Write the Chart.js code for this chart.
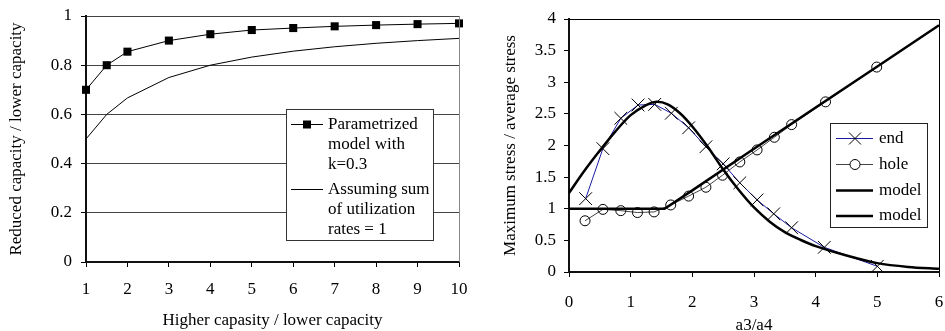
<!DOCTYPE html>
<html>
<head>
<meta charset="utf-8">
<script src="https://cdn.jsdelivr.net/npm/chart.js@4"></script>
<style>
  html, body { margin: 0; padding: 0; background: #fff; }
  #left { position: absolute; left: 0; top: 0; }
  #right { position: absolute; left: 470px; top: 0; }
</style>
</head>
<body>
<canvas id="left" width="470" height="331"></canvas>
<canvas id="right" width="475" height="331"></canvas>
<script>
// left chart: reduced capacity
var capRatio = [1, 1.5, 2, 3, 4, 5, 6, 7, 8, 9, 10];
var paramModel = [0.70, 0.80, 0.855, 0.90, 0.926, 0.943, 0.951, 0.958, 0.963, 0.967, 0.970];
var sumRates = [0.50, 0.60, 0.667, 0.75, 0.80, 0.833, 0.857, 0.875, 0.889, 0.90, 0.909];

// right chart: stress ratios
var endX = [0.27, 0.55, 0.84, 1.12, 1.39, 1.66, 1.94, 2.22, 2.50, 2.77, 3.05, 3.32, 3.61, 4.14, 5.00];
var endY = [1.16, 1.95, 2.43, 2.64, 2.65, 2.51, 2.28, 1.98, 1.71, 1.41, 1.14, 0.92, 0.70, 0.39, 0.09];
var holeX = [0.26, 0.55, 0.84, 1.11, 1.38, 1.65, 1.94, 2.22, 2.49, 2.77, 3.05, 3.33, 3.61, 4.16, 4.99];
var holeY = [0.81, 0.99, 0.97, 0.94, 0.95, 1.06, 1.20, 1.34, 1.53, 1.74, 1.93, 2.13, 2.33, 2.69, 3.24];
var holeModelX = [0, 1.55, 2, 3, 4, 5, 6];
var holeModelY = [1, 1, 1.29, 1.95, 2.6, 3.25, 3.9];
var endModelX = [0, 0.25, 0.5, 0.75, 1, 1.25, 1.42, 1.6, 1.8, 2, 2.25, 2.5, 2.75, 3, 3.25, 3.5, 3.75, 4, 4.5, 5, 5.5, 6];
var endModelY = [1.25, 1.6, 1.92, 2.22, 2.48, 2.64, 2.69, 2.65, 2.51, 2.3, 1.98, 1.62, 1.3, 1.02, 0.8, 0.63, 0.51, 0.41, 0.26, 0.14, 0.08, 0.05];

Chart.defaults.font.family = "'Liberation Serif', 'Times New Roman', serif";
Chart.defaults.font.size = 17;
Chart.defaults.color = "#000";
Chart.defaults.animation = false;

function pairs(xs, ys) {
  var out = [];
  for (var i = 0; i < xs.length; i++) {
    out.push({ x: xs[i], y: ys[i] });
  }
  return out;
}

// 1.0 -> "1", 0.80 -> "0.8"
function plainTick(v) {
  return String(Math.round(v * 10) / 10);
}

function crossRot(ctx, x, y, r) {
  ctx.beginPath();
  ctx.moveTo(x - r, y - r); ctx.lineTo(x + r, y + r);
  ctx.moveTo(x - r, y + r); ctx.lineTo(x + r, y - r);
  ctx.stroke();
}

var leftExtras = {
  id: "leftExtras",
  afterDatasetsDraw: function (chart) {
    var ctx = chart.ctx;
    var a = chart.chartArea;
    ctx.save();
    // right border of plot
    ctx.strokeStyle = "#888";
    ctx.lineWidth = 1;
    ctx.beginPath();
    ctx.moveTo(Math.round(a.right) + 0.5, a.top);
    ctx.lineTo(Math.round(a.right) + 0.5, a.bottom);
    ctx.stroke();
    // legend box
    ctx.fillStyle = "#fff";
    ctx.fillRect(286.5, 109.5, 147, 131);
    ctx.strokeStyle = "#333";
    ctx.strokeRect(286.5, 109.5, 147, 131);
    ctx.strokeStyle = "#000";
    ctx.beginPath();
    ctx.moveTo(291, 124.5); ctx.lineTo(323, 124.5);
    ctx.moveTo(291, 189.5); ctx.lineTo(323, 189.5);
    ctx.stroke();
    ctx.fillStyle = "#000";
    ctx.fillRect(303, 120.5, 8, 8);
    ctx.font = "17px 'Liberation Serif', serif";
    ctx.textBaseline = "middle";
    ctx.textAlign = "left";
    var lines = ["Parametrized", "model with", "k=0.3"];
    for (var i = 0; i < lines.length; i++) ctx.fillText(lines[i], 328, 125 + i * 20);
    lines = ["Assuming sum", "of utilization", "rates = 1"];
    for (var j = 0; j < lines.length; j++) ctx.fillText(lines[j], 328, 190 + j * 20);
    ctx.restore();
  },
};

var rightExtras = {
  id: "rightExtras",
  afterDatasetsDraw: function (chart) {
    var ctx = chart.ctx;
    var a = chart.chartArea;
    ctx.save();
    ctx.strokeStyle = "#000";
    ctx.lineWidth = 1;
    ctx.beginPath();
    ctx.moveTo(a.left, Math.round(a.top) + 0.5);
    ctx.lineTo(Math.round(a.right) + 0.5, Math.round(a.top) + 0.5);
    ctx.lineTo(Math.round(a.right) + 0.5, a.bottom);
    ctx.stroke();
    // legend box
    ctx.fillStyle = "#fff";
    ctx.fillRect(360.5, 123.5, 97, 104);
    ctx.strokeStyle = "#222";
    ctx.strokeRect(360.5, 123.5, 97, 104);
    // end
    ctx.strokeStyle = "#1a1aa0";
    ctx.beginPath(); ctx.moveTo(366, 138.5); ctx.lineTo(403, 138.5); ctx.stroke();
    ctx.strokeStyle = "#000";
    crossRot(ctx, 385, 138.5, 6);
    // hole
    ctx.strokeStyle = "#444";
    ctx.beginPath(); ctx.moveTo(366, 164.5); ctx.lineTo(403, 164.5); ctx.stroke();
    ctx.strokeStyle = "#000";
    ctx.fillStyle = "#fff";
    ctx.beginPath(); ctx.arc(385, 164.5, 5, 0, Math.PI * 2); ctx.fill(); ctx.stroke();
    // model lines
    ctx.lineWidth = 2.5;
    ctx.beginPath();
    ctx.moveTo(366, 190.5); ctx.lineTo(403, 190.5);
    ctx.moveTo(366, 216); ctx.lineTo(403, 216);
    ctx.stroke();
    ctx.fillStyle = "#000";
    ctx.font = "17px 'Liberation Serif', serif";
    ctx.textBaseline = "middle";
    ctx.textAlign = "left";
    ctx.fillText("end", 409, 138.5);
    ctx.fillText("hole", 409, 164.5);
    ctx.fillText("model", 409, 190.5);
    ctx.fillText("model", 409, 216);
    ctx.restore();
  },
};

// keep chart area where the reference puts it: no label overflow padding
function noPad(s) {
  s.paddingLeft = 0;
  s.paddingRight = 0;
  s.paddingTop = 0;
  s.paddingBottom = 0;
}

new Chart(document.getElementById("left"), {
  type: "scatter",
  data: {
    datasets: [
      {
        label: "Parametrized model with k=0.3",
        data: pairs(capRatio, paramModel),
        showLine: true,
        borderColor: "#000",
        borderWidth: 1,
        pointStyle: "rect",
        pointRadius: 5.7,
        pointBackgroundColor: "#000",
        pointBorderWidth: 0,
      },
      {
        label: "Assuming sum of utilization rates = 1",
        data: pairs(capRatio, sumRates),
        showLine: true,
        borderColor: "#000",
        borderWidth: 1,
        pointRadius: 0,
      },
    ],
  },
  options: {
    responsive: false,
    clip: false,
    layout: { autoPadding: false, padding: { top: 16, right: 11, left: 0, bottom: 0 } },
    plugins: { legend: { display: false }, tooltip: { enabled: false } },
    scales: {
      x: {
        type: "linear",
        min: 1,
        max: 10,
        ticks: { stepSize: 1, padding: 12, callback: plainTick },
        grid: { drawOnChartArea: false, tickLength: 5, tickColor: "#000" },
        border: { color: "#111", width: 2 },
        title: { display: true, text: "Higher capasity / lower capacity", padding: { top: 0, bottom: 0 } },
        afterFit: function (s) { noPad(s); s.height = 69; },
      },
      y: {
        min: 0,
        max: 1,
        ticks: { stepSize: 0.2, padding: 9, callback: plainTick },
        grid: { color: "#444", lineWidth: 1, tickLength: 5, tickColor: "#000" },
        border: { color: "#111", width: 2 },
        title: { display: true, text: "Reduced capacity / lower capacity", padding: { top: 6, bottom: 0 } },
        afterFit: function (s) { noPad(s); s.width = 86; },
      },
    },
  },
  plugins: [leftExtras],
});

new Chart(document.getElementById("right"), {
  type: "scatter",
  data: {
    datasets: [
      {
        label: "model",
        data: pairs(endModelX, endModelY),
        showLine: true,
        borderColor: "#000",
        borderWidth: 2.5,
        tension: 0.3,
        pointRadius: 0,
      },
      {
        label: "model",
        data: pairs(holeModelX, holeModelY),
        showLine: true,
        borderColor: "#000",
        borderWidth: 2.5,
        pointRadius: 0,
      },
      {
        label: "hole",
        data: pairs(holeX, holeY),
        showLine: true,
        borderColor: "#444",
        borderWidth: 1,
        pointStyle: "circle",
        pointRadius: 5,
        pointBorderColor: "#000",
        pointBackgroundColor: "rgba(255,255,255,0)",
        pointBorderWidth: 1,
      },
      {
        label: "end",
        data: pairs(endX, endY),
        showLine: true,
        borderColor: "#1a1aa0",
        borderWidth: 1,
        pointStyle: "crossRot",
        pointRadius: 9,
        pointBorderColor: "#000",
        pointBorderWidth: 1,
      },
    ],
  },
  options: {
    responsive: false,
    clip: false,
    layout: { autoPadding: false, padding: { top: 19, right: 6, left: 0, bottom: 0 } },
    plugins: { legend: { display: false }, tooltip: { enabled: false } },
    scales: {
      x: {
        type: "linear",
        min: 0,
        max: 6,
        ticks: { stepSize: 1, padding: 15, callback: plainTick },
        grid: { drawOnChartArea: false, tickLength: 5, tickColor: "#000" },
        border: { color: "#111", width: 2 },
        title: { display: true, text: "a3/a4", padding: { top: 0, bottom: -5 } },
        afterFit: function (s) { noPad(s); s.height = 59; },
      },
      y: {
        min: 0,
        max: 4,
        ticks: { stepSize: 0.5, padding: 8, callback: plainTick },
        grid: { drawOnChartArea: false, tickLength: 5, tickColor: "#000" },
        border: { color: "#111", width: 2 },
        title: { display: true, text: "Maximum stress / average stress", padding: { top: 30, bottom: 0 } },
        afterFit: function (s) { noPad(s); s.width = 99; },
      },
    },
  },
  plugins: [rightExtras],
});
</script>
</body>
</html>
